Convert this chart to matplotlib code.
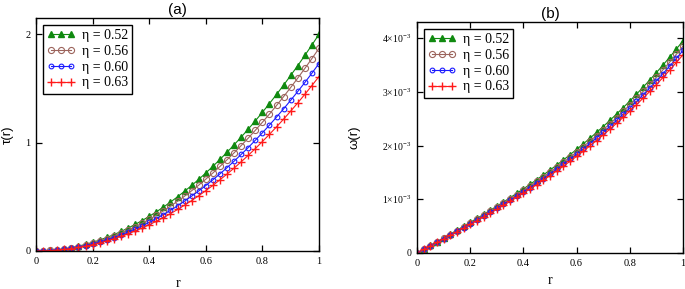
import matplotlib
matplotlib.use("Agg")
import matplotlib.pyplot as plt

r = [k / 40 for k in range(41)]

labels = ["η = 0.52", "η = 0.56", "η = 0.60", "η = 0.63"]

tau_052 = [0, 0.001, 0.005, 0.011, 0.020, 0.031, 0.045, 0.061, 0.080, 0.101, 0.125, 0.151, 0.180, 0.211, 0.245, 0.281, 0.320, 0.361, 0.405, 0.451, 0.500, 0.551, 0.605, 0.661, 0.720, 0.781, 0.845, 0.911, 0.980, 1.051, 1.125, 1.201, 1.280, 1.361, 1.445, 1.531, 1.620, 1.711, 1.805, 1.901, 2.000]
tau_056 = [0, 0.001, 0.005, 0.010, 0.018, 0.028, 0.041, 0.055, 0.073, 0.092, 0.114, 0.138, 0.164, 0.193, 0.224, 0.257, 0.292, 0.330, 0.371, 0.414, 0.459, 0.506, 0.556, 0.608, 0.663, 0.720, 0.780, 0.842, 0.906, 0.973, 1.042, 1.114, 1.188, 1.264, 1.343, 1.425, 1.509, 1.596, 1.685, 1.776, 1.870]
tau_060 = [0, 0.001, 0.004, 0.009, 0.016, 0.025, 0.036, 0.050, 0.065, 0.082, 0.102, 0.124, 0.148, 0.173, 0.202, 0.232, 0.264, 0.299, 0.336, 0.375, 0.416, 0.460, 0.506, 0.554, 0.604, 0.657, 0.712, 0.769, 0.829, 0.891, 0.955, 1.022, 1.091, 1.162, 1.236, 1.312, 1.391, 1.472, 1.555, 1.641, 1.730]
tau_063 = [0, 0.001, 0.004, 0.008, 0.015, 0.023, 0.033, 0.045, 0.059, 0.075, 0.093, 0.113, 0.135, 0.159, 0.184, 0.212, 0.242, 0.274, 0.308, 0.344, 0.383, 0.423, 0.465, 0.510, 0.557, 0.605, 0.657, 0.710, 0.765, 0.823, 0.883, 0.945, 1.010, 1.077, 1.146, 1.217, 1.291, 1.367, 1.446, 1.527, 1.610]

# omega values in units of 1e-3
omega_052 = [0, 0.070, 0.140, 0.210, 0.281, 0.352, 0.424, 0.496, 0.569, 0.643, 0.718, 0.794, 0.871, 0.949, 1.029, 1.111, 1.194, 1.278, 1.365, 1.453, 1.544, 1.636, 1.731, 1.829, 1.928, 2.031, 2.136, 2.244, 2.354, 2.468, 2.585, 2.705, 2.829, 2.956, 3.086, 3.220, 3.358, 3.500, 3.646, 3.796, 3.950]
omega_056 = [0, 0.068, 0.137, 0.205, 0.274, 0.343, 0.413, 0.484, 0.555, 0.627, 0.700, 0.774, 0.849, 0.926, 1.004, 1.083, 1.164, 1.246, 1.331, 1.417, 1.505, 1.595, 1.688, 1.783, 1.880, 1.980, 2.082, 2.187, 2.295, 2.406, 2.520, 2.637, 2.757, 2.881, 3.008, 3.139, 3.273, 3.412, 3.554, 3.700, 3.850]
omega_060 = [0, 0.067, 0.134, 0.201, 0.268, 0.336, 0.404, 0.473, 0.543, 0.613, 0.685, 0.757, 0.831, 0.906, 0.982, 1.059, 1.138, 1.219, 1.302, 1.386, 1.473, 1.561, 1.652, 1.744, 1.840, 1.937, 2.038, 2.141, 2.246, 2.355, 2.467, 2.581, 2.699, 2.820, 2.945, 3.073, 3.205, 3.340, 3.480, 3.623, 3.770]
omega_063 = [0, 0.065, 0.131, 0.196, 0.262, 0.328, 0.395, 0.463, 0.531, 0.600, 0.669, 0.740, 0.812, 0.885, 0.960, 1.036, 1.113, 1.192, 1.273, 1.355, 1.440, 1.527, 1.615, 1.706, 1.799, 1.895, 1.993, 2.094, 2.197, 2.304, 2.413, 2.525, 2.641, 2.760, 2.882, 3.007, 3.136, 3.269, 3.405, 3.546, 3.690]

x_ticks = [0, 0.2, 0.4, 0.6, 0.8, 1]
x_ticklabels = ["0", "0.2", "0.4", "0.6", "0.8", "1"]
tau_ticks = [0, 1, 2]
tau_ticklabels = ["0", "1", "2"]
omega_ticks = [0, 1, 2, 3, 4]
omega_ticklabels = ["0", "1×10$^{-3}$", "2×10$^{-3}$", "3×10$^{-3}$", "4×10$^{-3}$"]

plt.rcParams["mathtext.fontset"] = "custom"
plt.rcParams["mathtext.rm"] = "Liberation Serif"
plt.rcParams["mathtext.it"] = "Liberation Serif:italic"

SERIF = "Liberation Serif"
SANS = "Liberation Sans"

styles = [
    dict(color="#108a10", marker="^", ms=4.2, mfc="#108a10", mec="#108a10", lw=0.8),
    dict(color="#9c645c", marker="o", ms=4.4, mfc="none", mec="#9c645c", mew=0.8, lw=0.8),
    dict(color="#1a1aff", marker="o", ms=3.4, mfc="none", mec="#1a1aff", mew=0.8, lw=0.8),
    dict(color="#ff1a1a", marker="+", ms=5.5, mec="#ff1a1a", mew=1.0, lw=0.8),
]

fig = plt.figure(figsize=(6.85, 2.89), dpi=100)
ax1 = fig.add_axes([0.0526, 0.1315, 0.4131, 0.8062])
ax2 = fig.add_axes([0.6088, 0.1246, 0.3883, 0.7993])

for ys, st, lab in zip([tau_052, tau_056, tau_060, tau_063], styles, labels):
    ax1.plot(r, ys, label=lab, **st)
for ys, st, lab in zip([omega_052, omega_056, omega_060, omega_063], styles, labels):
    ax2.plot(r, ys, label=lab, **st)

for ax, lp in ((ax1, 8), (ax2, 5)):
    ax.set_xlim(0, 1)
    ax.set_xticks(x_ticks)
    ax.set_xticklabels(x_ticklabels, fontfamily=SERIF, fontsize=7.5)
    ax.tick_params(direction="in", top=True, right=True, length=4, width=0.9, pad=4)
    for s in ax.spines.values():
        s.set_linewidth(1.0)
    ax.set_xlabel("r", fontfamily=SERIF, fontsize=10, labelpad=lp)
    leg = ax.legend(loc="upper left", prop={"family": SERIF, "size": 10}, numpoints=3,
                    handlelength=2.0, handletextpad=0.5, borderpad=0.3, labelspacing=0.2,
                    fancybox=False, framealpha=1, edgecolor="black", borderaxespad=0.5)
    leg.get_frame().set_linewidth(1.0)

ax1.set_ylim(0, 2.15)
ax1.set_yticks(tau_ticks)
ax1.set_yticklabels(tau_ticklabels, fontfamily=SERIF, fontsize=7.5)
ax1.set_ylabel("τ(r)", fontfamily=SANS, fontsize=9.5, labelpad=8)
ax1.set_title("(a)", fontfamily=SANS, fontsize=11, pad=3)

ax2.set_ylim(0, 4.3)
ax2.set_yticks(omega_ticks)
ax2.set_yticklabels(omega_ticklabels, fontfamily=SERIF, fontsize=7)
ax2.set_ylabel("ω(r)", fontfamily=SANS, fontsize=9.5, labelpad=16)
ax2.set_title("(b)", fontfamily=SANS, fontsize=11, pad=3)

fig.savefig("out.png", dpi=100)
